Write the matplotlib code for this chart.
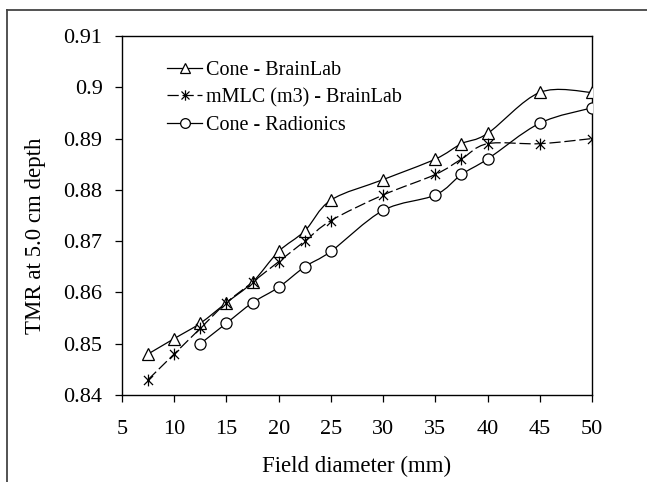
import numpy as np
import matplotlib
matplotlib.use("Agg")
import matplotlib.pyplot as plt
from matplotlib.path import Path
from matplotlib.patches import PathPatch
from matplotlib.lines import Line2D

# ---- data ----
x_cone_bl = [7.5, 10, 12.5, 15, 17.5, 20, 22.5, 25, 30, 35, 37.5, 40, 45, 50]
y_cone_bl = [0.848, 0.851, 0.854, 0.858, 0.862, 0.868, 0.872, 0.878, 0.882, 0.886, 0.889, 0.891, 0.899, 0.899]

x_mmlc = [7.5, 10, 12.5, 15, 17.5, 20, 22.5, 25, 30, 35, 37.5, 40, 45, 50]
y_mmlc = [0.843, 0.848, 0.853, 0.858, 0.862, 0.866, 0.870, 0.874, 0.879, 0.883, 0.886, 0.889, 0.889, 0.890]

x_cone_rad = [12.5, 15, 17.5, 20, 22.5, 25, 30, 35, 37.5, 40, 45, 50]
y_cone_rad = [0.850, 0.854, 0.858, 0.861, 0.865, 0.868, 0.876, 0.879, 0.883, 0.886, 0.893, 0.896]

labels = ["Cone - BrainLab", "mMLC (m3) - BrainLab", "Cone - Radionics"]
x_ticks = [5, 10, 15, 20, 25, 30, 35, 40, 45, 50]
y_ticks = [0.84, 0.85, 0.86, 0.87, 0.88, 0.89, 0.90, 0.91]
y_ticklabels = ["0.84", "0.85", "0.86", "0.87", "0.88", "0.89", "0.9", "0.91"]

plt.rcParams['font.family'] = ['Liberation Serif', 'DejaVu Serif']
FS_TICK = 16
FS_LABEL = 16.5
FS_LEG = 14.5

# star (asterisk) marker: x plus vertical line
star = Path([(-1, -1), (1, 1), (-1, 1), (1, -1), (0, -1.3), (0, 1.3)],
            [Path.MOVETO, Path.LINETO, Path.MOVETO, Path.LINETO, Path.MOVETO, Path.LINETO])


def smooth_path(xs, ys):
    xs = np.asarray(xs, float)
    ys = np.asarray(ys, float)
    pts = np.column_stack([xs, ys])
    n = len(pts)
    verts = [pts[0]]
    codes = [Path.MOVETO]
    for i in range(n - 1):
        p0 = pts[i - 1] if i > 0 else pts[i]
        p1 = pts[i]
        p2 = pts[i + 1]
        p3 = pts[i + 2] if i + 2 < n else pts[i + 1]
        c1 = p1 + (p2 - p0) / 6.0
        c2 = p2 - (p3 - p1) / 6.0
        verts += [c1, c2, p2]
        codes += [Path.CURVE4] * 3
    return Path(verts, codes)


fig = plt.figure(figsize=(6.47, 4.82), dpi=100)
ax = fig.add_axes([122 / 647, 1 - 395 / 482, (592 - 122) / 647, (395 - 36) / 482])

series = [
    (x_cone_bl, y_cone_bl, '^', '-', 8.5),
    (x_mmlc, y_mmlc, star, (0, (9, 3)), 8.5),
    (x_cone_rad, y_cone_rad, 'o', '-', 8),
]

handles = []
for (xs, ys, mk, ls, ms), lab in zip(series, labels):
    patch = PathPatch(smooth_path(xs, ys), facecolor='none', edgecolor='black',
                      lw=0.9, linestyle=ls, zorder=2)
    ax.add_patch(patch)
    ax.plot(xs, ys, linestyle='none', marker=mk, markersize=ms,
            markerfacecolor='white', markeredgecolor='black', markeredgewidth=0.9, zorder=3)
    handles.append(Line2D([], [], color='black', lw=0.9, linestyle=ls, marker=mk,
                          markersize=ms - 1, markerfacecolor='white',
                          markeredgecolor='black', markeredgewidth=0.9))

ax.set_xlim(5, 50)
ax.set_ylim(0.84, 0.91)
ax.set_xticks(x_ticks)
ax.set_xticklabels([str(v) for v in x_ticks])
ax.set_yticks(y_ticks)
ax.set_yticklabels(y_ticklabels)
ax.tick_params(axis='both', direction='out', length=5, width=0.9, labelsize=FS_TICK, colors='black')
ax.tick_params(axis='x', pad=13)
ax.tick_params(axis='y', pad=9)
for s in ax.spines.values():
    s.set_linewidth(1.0)
    s.set_color('black')

ax.set_xlabel("Field diameter (mm)", fontsize=FS_LABEL, labelpad=12)
ax.set_ylabel("TMR at 5.0 cm depth", fontsize=FS_LABEL)
ax.yaxis.set_label_coords(-0.162, 0.443)

leg = ax.legend(handles, labels, loc='upper left', bbox_to_anchor=(0.096, 0.93),
                frameon=False, fontsize=FS_LEG, handlelength=1.75, handletextpad=0.2,
                labelspacing=0.4, borderpad=0, borderaxespad=0)

# outer frame lines (left and top)
fig.add_artist(Line2D([7 / 647, 7 / 647], [0, 1 - 10 / 482], transform=fig.transFigure,
                      color='#444444', lw=1.3))
fig.add_artist(Line2D([7 / 647, 1], [1 - 10 / 482, 1 - 10 / 482], transform=fig.transFigure,
                      color='#444444', lw=1.3))

fig.savefig("out.png", dpi=100)
